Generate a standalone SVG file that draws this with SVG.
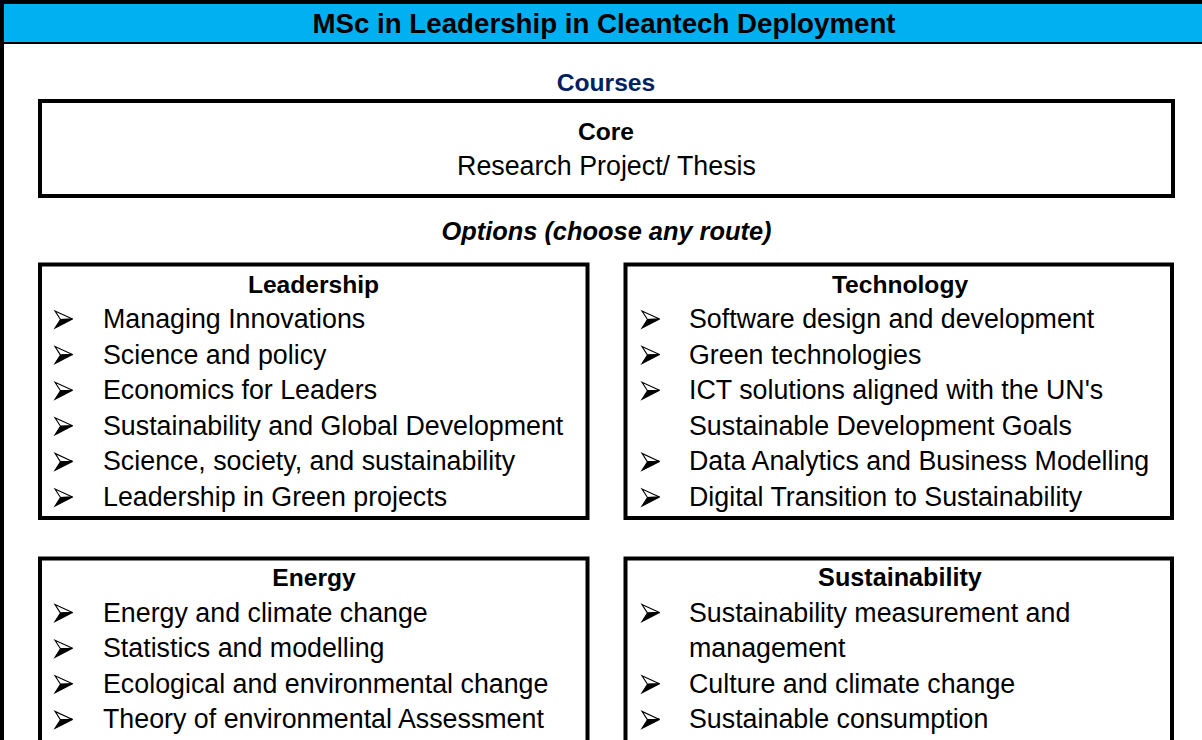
<svg xmlns="http://www.w3.org/2000/svg" width="1202" height="740" viewBox="0 0 1202 740">
<style>
.box{fill:none;stroke:#000;stroke-width:4}
.t{font-family:"Liberation Sans",Arial,sans-serif;font-size:26.8px;fill:#000}
.h{font-family:"Liberation Sans",Arial,sans-serif;font-size:24.6px;font-weight:bold;fill:#000}
.c{text-anchor:middle}
</style>
<defs>
<g id="arrow">
<path d="M17.5,-9 L0,-17 L5.5,-8.5 Z" fill="#fff" stroke="#000" stroke-width="1.1" stroke-linejoin="miter"/>
<path d="M17.5,-9 L5.5,-8.5 L0,0 Z" fill="#000" stroke="#000" stroke-width="1.1" stroke-linejoin="miter"/>
</g>
</defs>
<rect x="0" y="0" width="1202" height="740" fill="#fff"/>
<g id="frame">
<rect x="2" y="2" width="1212" height="760" fill="#fff" stroke="#000" stroke-width="4"/>
<rect x="4" y="4" width="1198" height="38" fill="#00B0F0"/>
<line x1="4" y1="43" x2="1202" y2="43" stroke="#000" stroke-width="2"/>
<text class="h c" x="604" y="33" style="font-size:27.7px">MSc in Leadership in Cleantech Deployment</text>
<text class="h c" x="606" y="91" style="fill:#002060">Courses</text>
<text class="h c" x="606.5" y="240" style="font-style:italic;font-size:25.4px">Options (choose any route)</text>
</g>
<g id="core">
<rect class="box" x="40" y="101" width="1133" height="95"/>
<text class="h c" x="606" y="140">Core</text>
<text class="t c" x="606.5" y="175">Research Project/ Thesis</text>
</g>
<g id="leadership">
<rect class="box" x="40" y="264.5" width="547.5" height="253.5"/>
<text class="h c" x="313.5" y="292.5">Leadership</text>
<use href="#arrow" x="55" y="328"/><text class="t" x="103" y="328">Managing Innovations</text>
<use href="#arrow" x="55" y="363.6"/><text class="t" x="103" y="363.6">Science and policy</text>
<use href="#arrow" x="55" y="399.2"/><text class="t" x="103" y="399.2">Economics for Leaders</text>
<use href="#arrow" x="55" y="434.8"/><text class="t" x="103" y="434.8">Sustainability and Global Development</text>
<use href="#arrow" x="55" y="470.4"/><text class="t" x="103" y="470.4">Science, society, and sustainability</text>
<use href="#arrow" x="55" y="506"/><text class="t" x="103" y="506">Leadership in Green projects</text>
</g>
<g id="technology">
<rect class="box" x="625.5" y="264.5" width="546.5" height="253.5"/>
<text class="h c" x="900" y="292.5">Technology</text>
<use href="#arrow" x="642" y="328"/><text class="t" x="689" y="328">Software design and development</text>
<use href="#arrow" x="642" y="363.6"/><text class="t" x="689" y="363.6">Green technologies</text>
<use href="#arrow" x="642" y="399.2"/><text class="t" x="689" y="399.2">ICT solutions aligned with the UN's</text>
<text class="t" x="689" y="434.8">Sustainable Development Goals</text>
<use href="#arrow" x="642" y="470.4"/><text class="t" x="689" y="470.4">Data Analytics and Business Modelling</text>
<use href="#arrow" x="642" y="506"/><text class="t" x="689" y="506">Digital Transition to Sustainability</text>
</g>
<g id="energy">
<rect class="box" x="40" y="558.5" width="547.5" height="200"/>
<text class="h c" x="314" y="586">Energy</text>
<use href="#arrow" x="55" y="621.6"/><text class="t" x="103" y="621.6">Energy and climate change</text>
<use href="#arrow" x="55" y="657.2"/><text class="t" x="103" y="657.2">Statistics and modelling</text>
<use href="#arrow" x="55" y="692.8"/><text class="t" x="103" y="692.8">Ecological and environmental change</text>
<use href="#arrow" x="55" y="728.4"/><text class="t" x="103" y="728.4">Theory of environmental Assessment</text>
</g>
<g id="sustainability">
<rect class="box" x="625.5" y="558.5" width="546.5" height="200"/>
<text class="h c" x="900" y="586" style="font-size:25.2px">Sustainability</text>
<use href="#arrow" x="642" y="621.6"/><text class="t" x="689" y="621.6">Sustainability measurement and</text>
<text class="t" x="689" y="657.2">management</text>
<use href="#arrow" x="642" y="692.8"/><text class="t" x="689" y="692.8">Culture and climate change</text>
<use href="#arrow" x="642" y="728.4"/><text class="t" x="689" y="728.4">Sustainable consumption</text>
</g>
<g id="connectors"/>
</svg>
